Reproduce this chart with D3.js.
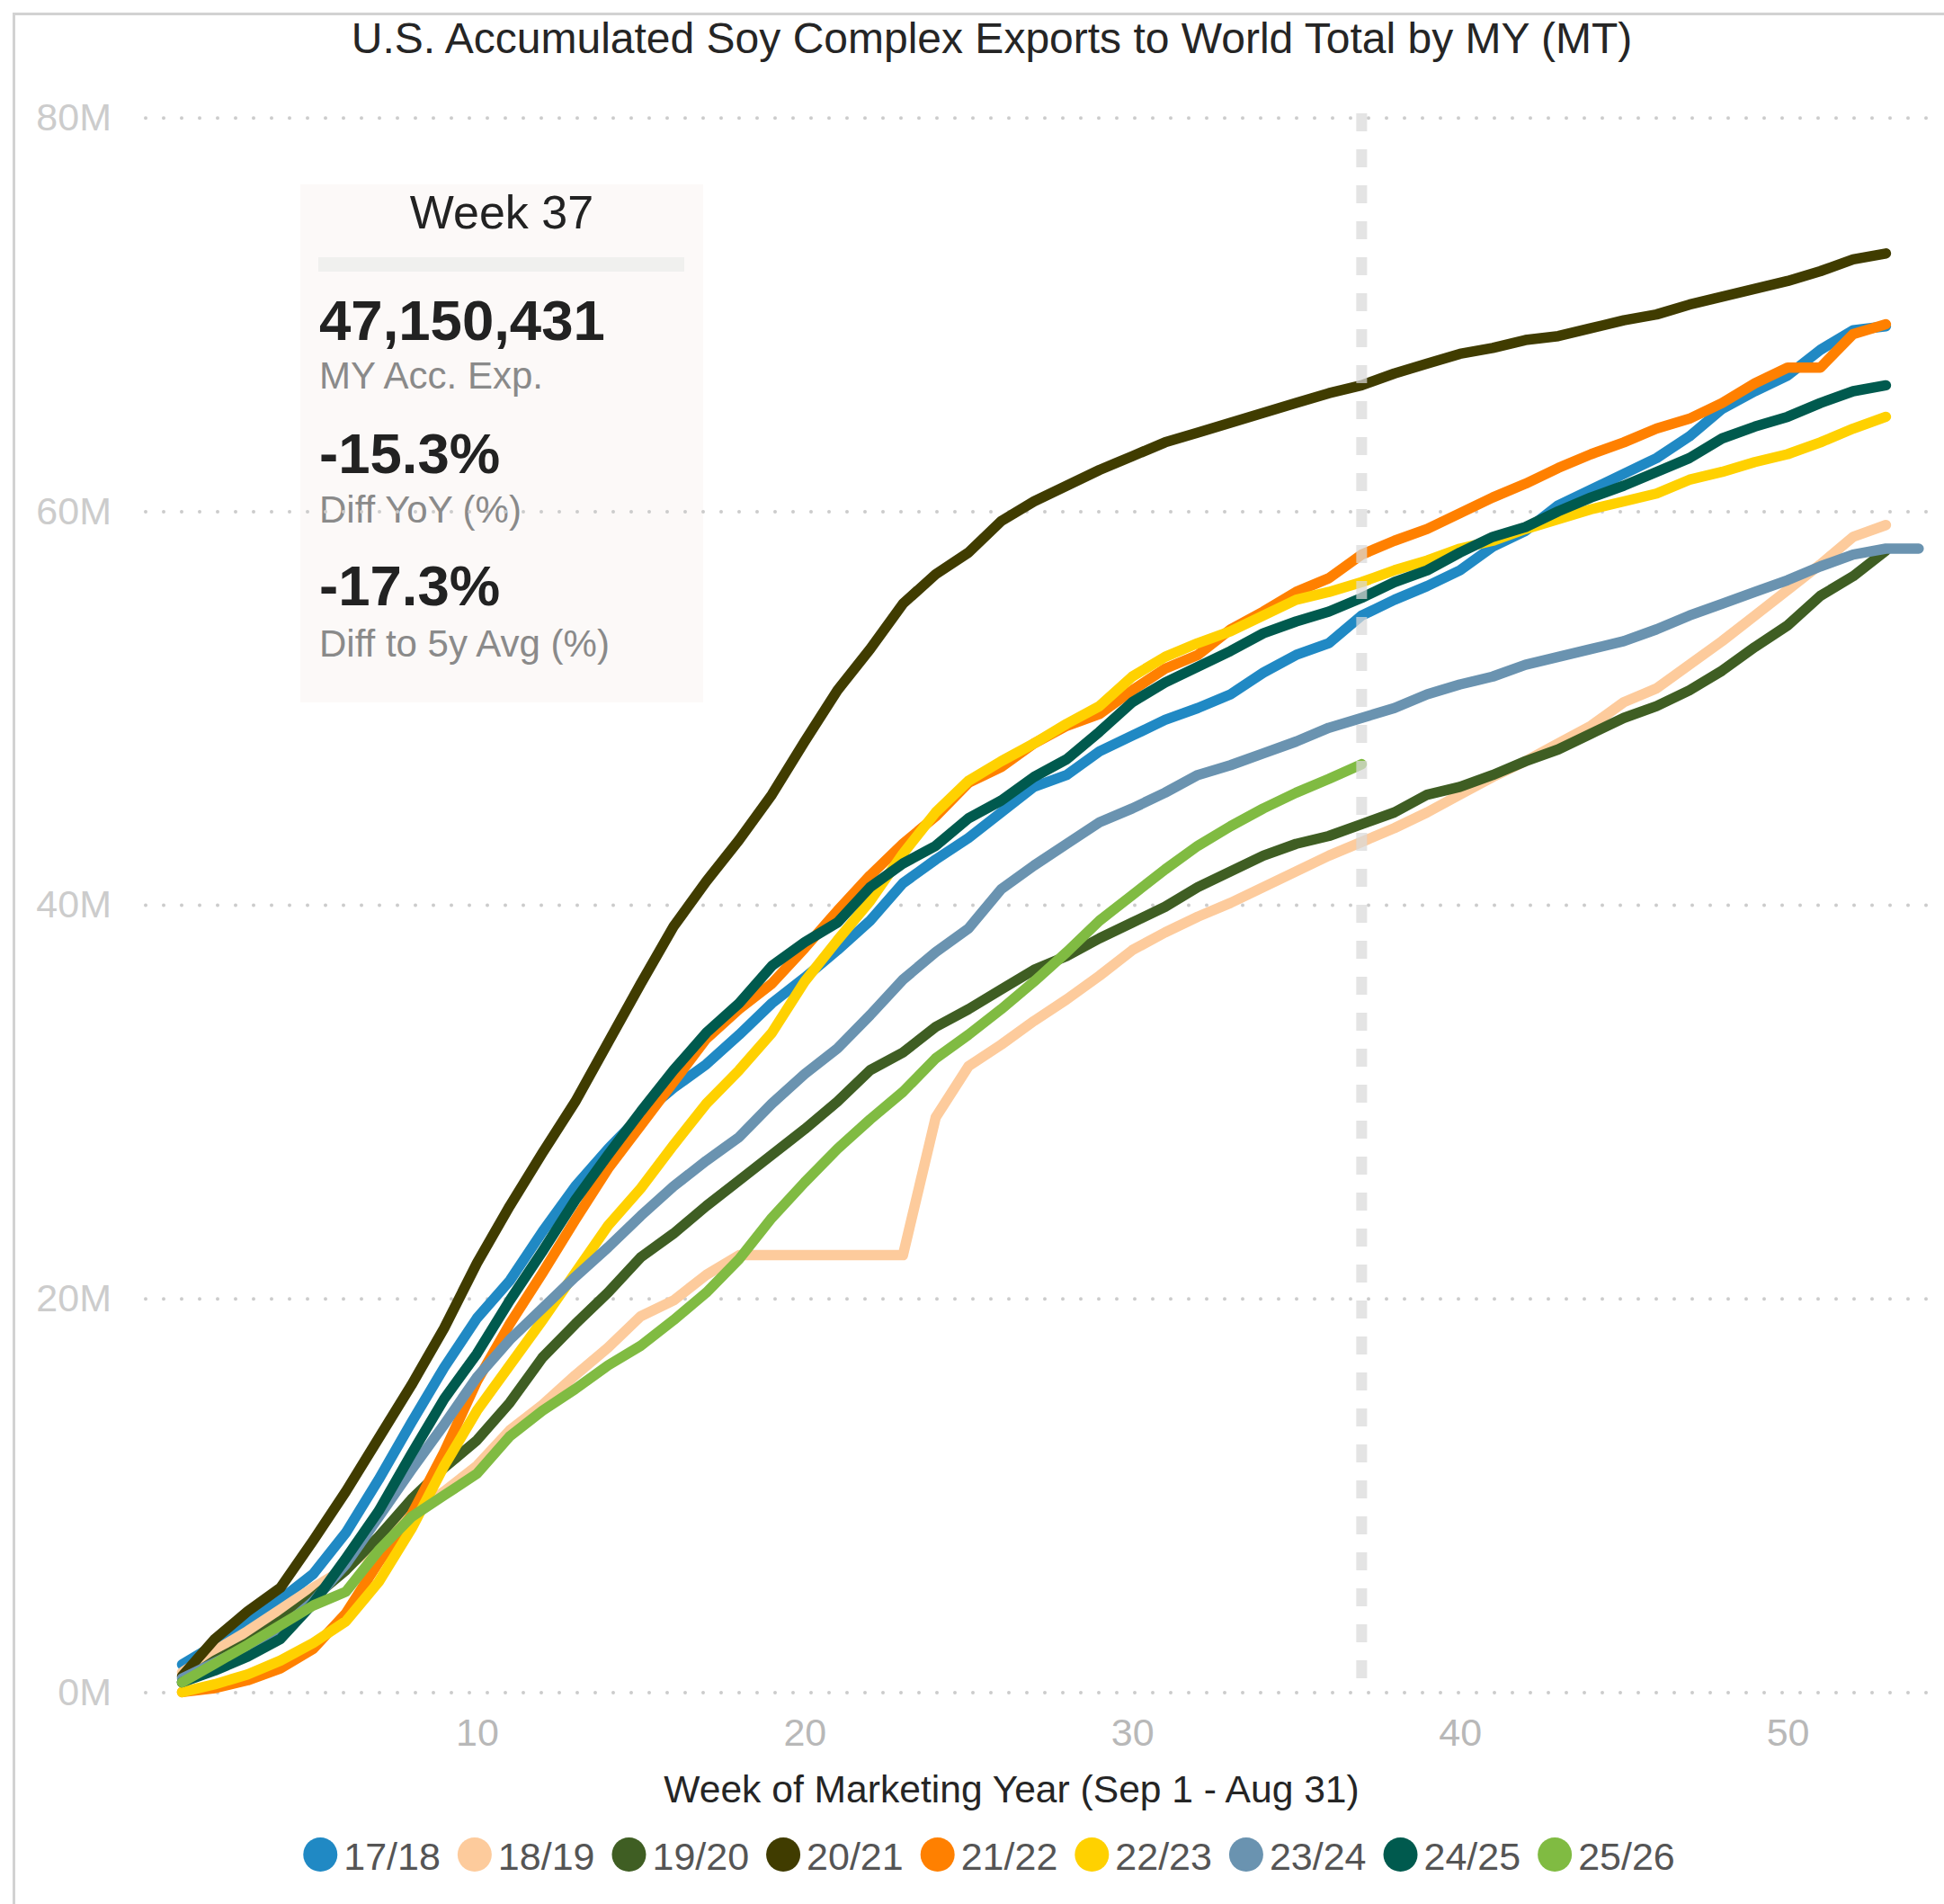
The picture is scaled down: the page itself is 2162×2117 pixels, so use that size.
<!DOCTYPE html>
<html><head><meta charset="utf-8">
<script src="https://cdn.jsdelivr.net/npm/d3@7"></script>
<style>
html,body{margin:0;padding:0;background:#fff;}
svg{display:block;font-family:"Liberation Sans",Arial,Helvetica,sans-serif;}
</style></head><body>
<svg id="chart" width="2162" height="2117"></svg>
<script>
// ---------- DATA (million MT, accumulated by week of marketing year) ----------
const seriesNames = ["17/18","18/19","19/20","20/21","21/22","22/23","23/24","24/25","25/26"];
const seriesColors = ["#2089c4","#fdcb9c","#3f5e23","#403c00","#ff8000","#ffd100","#6a93b0","#005a4e","#80bb42"];

const s1718 = [1.4,2.4,3.5,4.7,6.0,8.1,10.8,13.7,16.5,19.0,
  20.9,23.4,25.7,27.6,29.3,30.7,31.9,33.4,35.0,36.3,
  37.7,39.2,41.1,42.3,43.4,44.7,46.0,46.6,47.8,48.6,
  49.4,50.0,50.7,51.8,52.7,53.3,54.7,55.5,56.2,57.0,
  58.2,59.0,60.3,61.1,61.9,62.7,63.8,65.2,66.1,66.9,
  68.2,69.2,69.4];
const s1819 = [1.0,2.1,3.1,4.2,5.3,6.3,7.6,9.0,10.2,11.5,
  13.3,14.6,16.1,17.5,19.1,19.9,21.2,22.2,22.2,22.2,
  22.2,22.2,22.2,29.2,31.8,32.9,34.1,35.2,36.4,37.7,
  38.6,39.4,40.1,40.9,41.7,42.5,43.2,43.9,44.7,45.6,
  46.5,47.3,48.2,49.1,50.3,51.0,52.2,53.4,54.7,56.0,
  57.3,58.7,59.3];
const s1920 = [0.5,1.6,2.5,3.6,4.8,6.2,7.9,9.8,11.4,12.8,
  14.7,17.0,18.7,20.3,22.1,23.3,24.7,26.0,27.3,28.6,
  30.0,31.6,32.5,33.8,34.7,35.7,36.7,37.4,38.3,39.1,
  39.9,40.9,41.7,42.5,43.1,43.5,44.1,44.7,45.6,46.0,
  46.6,47.3,47.9,48.7,49.5,50.1,50.9,51.9,53.1,54.2,
  55.7,56.7,58.0];
const s2021 = [0.8,2.7,4.1,5.3,7.7,10.2,12.9,15.6,18.5,21.8,
  24.7,27.4,30.0,33.0,36.0,38.9,41.2,43.3,45.6,48.3,
  50.9,53.0,55.3,56.8,57.9,59.5,60.5,61.3,62.1,62.8,
  63.5,64.0,64.5,65.0,65.5,66.0,66.4,67.0,67.5,68.0,
  68.3,68.7,68.9,69.3,69.7,70.0,70.5,70.9,71.3,71.7,
  72.2,72.8,73.1];
const s2122 = [0.0,0.2,0.6,1.2,2.2,4.0,6.6,9.0,12.2,15.8,
  18.7,21.3,24.0,26.6,28.8,31.0,33.2,34.7,36.0,37.8,
  39.7,41.5,43.1,44.5,46.2,47.0,48.2,49.1,49.7,50.9,
  52.0,52.7,54.0,54.9,55.9,56.6,57.8,58.5,59.1,59.9,
  60.7,61.4,62.2,62.9,63.5,64.2,64.7,65.5,66.5,67.3,
  67.3,69.0,69.5];
const s2223 = [0.0,0.4,0.9,1.6,2.5,3.6,5.6,8.3,11.5,14.3,
  16.6,18.9,21.3,23.7,25.6,27.8,29.9,31.6,33.5,36.1,
  38.2,40.2,42.6,44.7,46.3,47.3,48.2,49.2,50.1,51.6,
  52.6,53.3,53.9,54.7,55.5,55.9,56.4,57.0,57.5,58.1,
  58.5,59.1,59.6,60.1,60.5,60.9,61.6,62.0,62.5,62.9,
  63.5,64.2,64.8];
const s2324 = [0.7,1.5,2.3,3.2,4.6,6.5,8.9,11.3,13.6,16.0,
  17.9,19.5,21.1,22.6,24.2,25.7,27.0,28.2,29.9,31.4,
  32.7,34.4,36.2,37.6,38.8,40.8,42.0,43.1,44.2,44.9,
  45.7,46.6,47.1,47.7,48.3,49.0,49.5,50.0,50.7,51.2,
  51.6,52.2,52.6,53.0,53.4,54.0,54.7,55.3,55.9,56.5,
  57.2,57.8,58.1,58.1];
const s2425 = [0.5,1.1,1.8,2.7,4.5,6.8,9.2,12.1,14.9,17.2,
  19.9,22.4,25.0,27.3,29.5,31.6,33.5,35.0,36.9,38.1,
  39.1,40.9,42.1,43.0,44.4,45.3,46.5,47.4,48.8,50.3,
  51.3,52.1,52.9,53.8,54.4,54.9,55.6,56.4,57.0,57.9,
  58.7,59.2,60.0,60.7,61.3,62.0,62.7,63.7,64.3,64.8,
  65.5,66.1,66.4];
const s2526 = [0.5,1.45,2.4,3.4,4.4,5.1,7.2,8.9,10.0,11.1,
  13.0,14.3,15.4,16.6,17.6,18.9,20.3,22.0,24.1,25.9,
  27.6,29.1,30.5,32.2,33.4,34.7,36.1,37.6,39.2,40.5,
  41.8,43.0,44.0,44.9,45.7,46.4,47.15];

const yTicks = [0,20,40,60,80];
const yTickLabels = ["0M","20M","40M","60M","80M"];
const xTicks = [10,20,30,40,50];
const currentWeek = 37;

const titleText = "U.S. Accumulated Soy Complex Exports to World Total by MY (MT)";
const xTitleText = "Week of Marketing Year (Sep 1 - Aug 31)";
const cardTitle = "Week 37";
const cardValues = ["47,150,431","-15.3%","-17.3%"];
const cardLabels = ["MY Acc. Exp.","Diff YoY (%)","Diff to 5y Avg (%)"];

const allSeries = [s1718,s1819,s1920,s2021,s2122,s2223,s2324,s2425,s2526];

// ---------- CHART ----------
const W = 2162, H = 2117;
const svg = d3.select("#chart");
svg.append("rect").attr("width",W).attr("height",H).attr("fill","#fff");

const x = d3.scaleLinear().domain([1,53]).range([202.5,2097.4]);
const y = d3.scaleLinear().domain([0,80]).range([1881.4,130.8]);

// frame lines
svg.append("line").attr("x1",14).attr("x2",W).attr("y1",15.5).attr("y2",15.5)
  .attr("stroke","#d2d2d2").attr("stroke-width",3);
svg.append("line").attr("x1",15.5).attr("x2",15.5).attr("y1",14).attr("y2",H)
  .attr("stroke","#d2d2d2").attr("stroke-width",3);

// title
svg.append("text").attr("x",1103).attr("y",59).attr("text-anchor","middle")
  .attr("font-size",48).attr("fill","#252525").text(titleText);

// info card
const card = svg.append("g");
card.append("rect").attr("x",334).attr("y",205).attr("width",448).attr("height",576)
  .attr("fill","#fcf9f8");
card.append("text").attr("x",558).attr("y",254).attr("text-anchor","middle")
  .attr("font-size",52).attr("fill","#222").text(cardTitle);
card.append("rect").attr("x",354).attr("y",286).attr("width",407).attr("height",16)
  .attr("fill","#f0f0ee");
const valY = [378,526,673], labY = [432,581,730];
cardValues.forEach((v,i)=>{
  card.append("text").attr("x",355).attr("y",valY[i]).attr("font-size",63.5)
    .attr("font-weight","bold").attr("fill","#222").text(v);
  card.append("text").attr("x",355).attr("y",labY[i]).attr("font-size",42)
    .attr("fill","#8a8a8a").text(cardLabels[i]);
});

// y axis + dotted gridlines
const yAxis = d3.axisLeft(y).tickValues(yTicks).tickFormat((d,i)=>yTickLabels[i])
  .tickSize(-(W-162)).tickPadding(38);
const gy = svg.append("g").attr("transform","translate(162,0)").call(yAxis);
gy.select(".domain").remove();
gy.selectAll(".tick line").attr("stroke","#cccccc").attr("stroke-width",4)
  .attr("stroke-dasharray","0,20").attr("stroke-linecap","round");
gy.selectAll(".tick text").attr("fill","#cccccc").attr("font-size",43)
  .attr("font-family","Liberation Sans, Arial, sans-serif");

// x axis
const xAxis = d3.axisBottom(x).tickValues(xTicks).tickSize(0).tickPadding(29);
const gx = svg.append("g").attr("transform",`translate(0,${y(0)})`).call(xAxis);
gx.select(".domain").remove();
gx.selectAll(".tick text").attr("fill","#b8b8b8").attr("font-size",43)
  .attr("font-family","Liberation Sans, Arial, sans-serif");

// x title
svg.append("text").attr("x",1125).attr("y",2004).attr("text-anchor","middle")
  .attr("font-size",42.6).attr("fill","#252525").text(xTitleText);

// lines
const line = d3.line().x((d,i)=>x(i+1)).y(d=>y(d));
allSeries.forEach((s,k)=>{
  svg.append("path").datum(s).attr("d",line).attr("fill","none")
    .attr("stroke",seriesColors[k]).attr("stroke-width",11.5)
    .attr("stroke-linejoin","round").attr("stroke-linecap","round");
});

// current week dashed marker
svg.append("line").attr("x1",x(currentWeek)).attr("x2",x(currentWeek))
  .attr("y1",126).attr("y2",1866).attr("stroke","#d9d9d9").attr("stroke-opacity",0.72)
  .attr("stroke-width",12).attr("stroke-dasharray","20,20");

// legend
const lg = svg.append("g");
const r = 19, gapText = 7, gapItem = 19;
let cx = 0;
seriesNames.forEach((n,i)=>{
  const g = lg.append("g");
  g.append("circle").attr("cx",cx+r).attr("cy",0).attr("r",r).attr("fill",seriesColors[i]);
  const t = g.append("text").attr("x",cx+2*r+gapText).attr("y",17).attr("font-size",43)
    .attr("fill","#555").text(n);
  const tw = t.node().getComputedTextLength();
  cx += 2*r + gapText + tw + gapItem;
});
const totalW = cx - gapItem;
lg.attr("transform",`translate(${1100 - totalW/2},2062)`);
</script>
</body></html>
